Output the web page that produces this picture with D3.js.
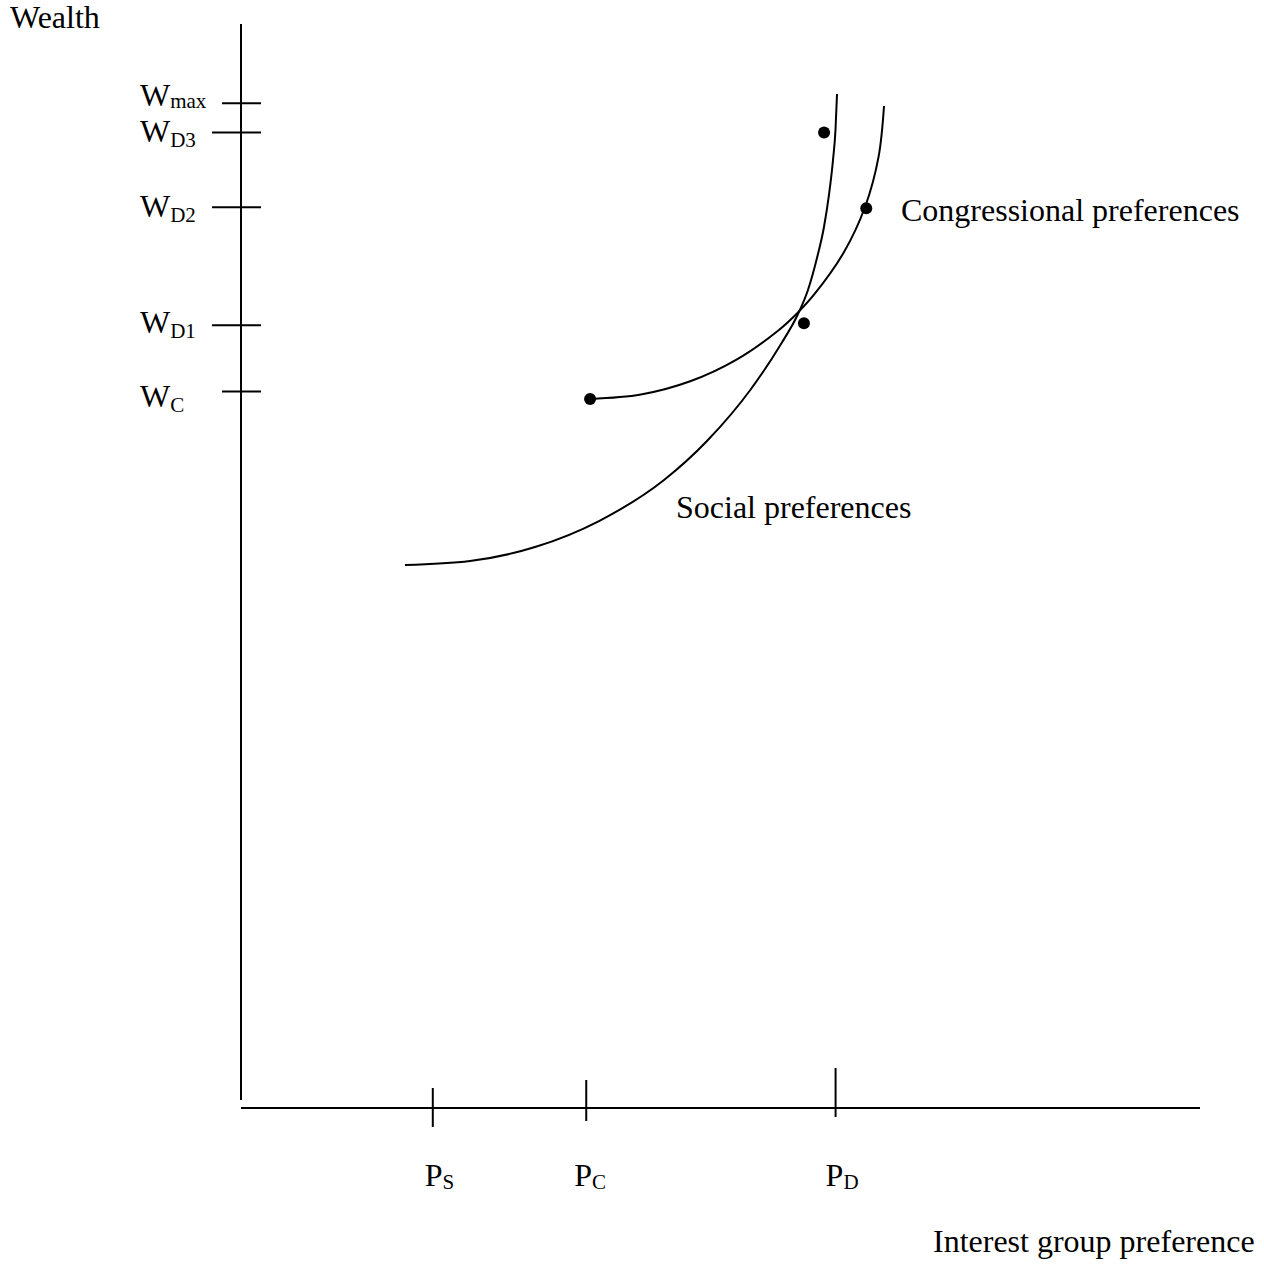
<!DOCTYPE html>
<html>
<head>
<meta charset="utf-8">
<script src="https://cdn.jsdelivr.net/npm/d3@7"></script>
<style>
  body { margin: 0; background: #fff; }
  svg text { font-family: 'Liberation Serif', 'Times New Roman', serif; fill: #000; }
</style>
</head>
<body>
<div id="chart"></div>
<script>
// ---- data (arbitrary units 0..100) ----
var yTickValues = [92.7, 90.0, 83.1, 72.2, 66.1];
var yTickMain   = ['W', 'W', 'W', 'W', 'W'];
var yTickSub    = ['max', 'D3', 'D2', 'D1', 'C'];

var xTickValues = [20, 36, 62];
var xTickMain   = ['P', 'P', 'P'];
var xTickSub    = ['S', 'C', 'D'];

var socialX = [17.10, 23.88, 30.66, 37.33, 44.11, 48.59, 53.18, 56.31, 57.98, 59.12, 60.06, 60.79, 61.31, 61.73, 61.99, 62.15];
var socialY = [50.09, 50.46, 51.75, 54.15, 57.93, 61.53, 66.33, 70.48, 73.06, 75.46, 78.41, 81.27, 84.23, 87.45, 90.22, 93.54];

var congressX = [36.39, 41.70, 46.84, 51.67, 56.03, 58.00, 59.79, 62.85, 65.10, 66.48, 67.05];
var congressY = [65.41, 65.82, 67.04, 69.04, 71.73, 73.32, 75.07, 78.92, 83.19, 87.74, 92.44];

var dotX = [60.8, 65.2, 58.7, 36.4];
var dotY = [90.0, 83.0, 72.4, 65.4];

// ---- layout ----
var width  = 1264;
var height = 1268;
var font_size = 32;
var sub_size  = 21;

// hand drawn tick extents and label nudges
var yTickLeft  = [19, 29, 29, 29, 19];
var yLabelDy   = [3, 10, 10, 8, 16];
var ySubDy     = [2, 5, 5, 5, 5];
var xTickUp    = [20, 28, 40];
var xTickDown  = [19, 13, 9];
var xLabelDx   = [-8, -12, -10];

var svg = d3.select('#chart')
    .append('svg')
    .attr('width', width)
    .attr('height', height);

var x_scale = d3.scaleLinear().domain([0, 100]).range([241, 1200]);
var y_scale = d3.scaleLinear().domain([0, 100]).range([1108, 24]);

function styled(sel) {
    return sel.attr('stroke', '#000')
        .attr('stroke-width', 2)
        .attr('fill', 'none');
}

// axes
styled(svg.append('line'))
    .attr('x1', x_scale(0)).attr('x2', x_scale(0))
    .attr('y1', y_scale(100)).attr('y2', y_scale(0) - 8);

styled(svg.append('line'))
    .attr('x1', x_scale(0)).attr('x2', x_scale(100))
    .attr('y1', y_scale(0)).attr('y2', y_scale(0));

// y ticks + labels
yTickValues.forEach(function(v, i) {
    var y = y_scale(v);
    styled(svg.append('line'))
        .attr('x1', x_scale(0) - yTickLeft[i]).attr('x2', x_scale(0) + 20)
        .attr('y1', y).attr('y2', y);

    var t = svg.append('text')
        .attr('x', 140)
        .attr('y', y + yLabelDy[i])
        .attr('font-size', font_size + 'px');
    t.append('tspan').text(yTickMain[i]);
    t.append('tspan')
        .attr('font-size', sub_size + 'px')
        .attr('dy', ySubDy[i])
        .text(yTickSub[i]);
});

// x ticks + labels
xTickValues.forEach(function(v, i) {
    var x = x_scale(v);
    styled(svg.append('line'))
        .attr('x1', x).attr('x2', x)
        .attr('y1', y_scale(0) - xTickUp[i]).attr('y2', y_scale(0) + xTickDown[i]);

    var t = svg.append('text')
        .attr('x', x + xLabelDx[i])
        .attr('y', 1186)
        .attr('font-size', font_size + 'px');
    t.append('tspan').text(xTickMain[i]);
    t.append('tspan')
        .attr('font-size', sub_size + 'px')
        .attr('dy', 3)
        .text(xTickSub[i]);
});

// curves
var line = d3.line()
    .x(function(d) { return x_scale(d[0]); })
    .y(function(d) { return y_scale(d[1]); })
    .curve(d3.curveMonotoneX);

styled(svg.append('path'))
    .attr('d', line(d3.zip(socialX, socialY)));

styled(svg.append('path'))
    .attr('d', line.curve(d3.curveCatmullRom.alpha(0.5))(d3.zip(congressX, congressY)));

// dots
svg.selectAll('circle')
    .data(d3.zip(dotX, dotY))
    .enter()
    .append('circle')
    .attr('cx', function(d) { return x_scale(d[0]); })
    .attr('cy', function(d) { return y_scale(d[1]); })
    .attr('r', 6)
    .attr('fill', '#000');

// text labels
function label(txt, x, y) {
    svg.append('text')
        .attr('x', x)
        .attr('y', y)
        .attr('font-size', font_size + 'px')
        .text(txt);
}
label('Wealth', 10, 28);
label('Congressional preferences', 901, 221);
label('Social preferences', 676, 518);
label('Interest group preference', 933, 1252);
</script>
</body>
</html>
